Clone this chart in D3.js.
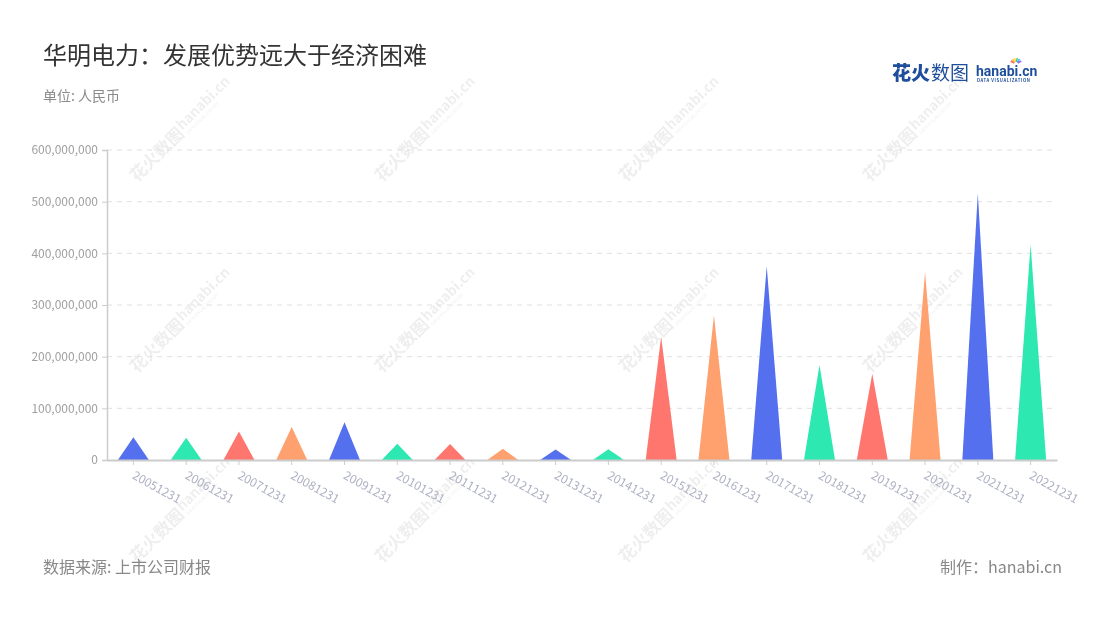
<!DOCTYPE html>
<html><head><meta charset="utf-8">
<script src="https://cdn.jsdelivr.net/npm/d3@7"></script>
<style>
html,body{margin:0;padding:0;background:#fff;}
svg{display:block;font-family:"Noto Sans CJK SC","Noto Sans",sans-serif;}
</style></head>
<body>
<svg id="chart" width="1100" height="620"></svg>
<script>
const categories = ["20051231","20061231","20071231","20081231","20091231","20101231","20111231","20121231","20131231","20141231","20151231","20161231","20171231","20181231","20191231","20201231","20211231","20221231"];
const values = [44000000,43000000,55000000,64000000,73000000,31500000,31000000,22000000,20500000,21000000,238000000,280000000,375000000,184000000,167000000,364000000,516000000,417000000];
const yTicks = [0,100000000,200000000,300000000,400000000,500000000,600000000];
const palette = ["#5470ee","#2de8b0","#ff766f","#ffa06f"];
const title = "华明电力：发展优势远大于经济困难";
const subtitle = "单位: 人民币";
const source = "数据来源: 上市公司财报";
const maker = "制作：hanabi.cn";

const svg = d3.select("#chart");
const m = {left:107, right:1057, top:150, bottom:460};

// watermarks
const wmX = [183, 428, 672, 916], wmY = [127, 318, 508];
const wm = svg.append("g").attr("opacity", 0.07);
wmX.forEach(x => wmY.forEach(y => {
  const g = wm.append("g").attr("transform", `translate(${x},${y}) rotate(-45)`);
  g.append("text").attr("x", -72).attr("y", 7).attr("font-size", 17).attr("font-weight", 700).attr("fill", "#000").text("花火数图");
  g.append("text").attr("x", -3).attr("y", 2).attr("font-size", 14).attr("font-weight", 700).attr("fill", "#000").text("hanabi.cn");
  g.append("text").attr("x", -2).attr("y", 9).attr("font-size", 4.5).attr("fill", "#000").text("DATA VISUALIZATION");
}));

const x = d3.scaleBand().domain(categories).range([m.left, m.right]);
const y = d3.scaleLinear().domain([0, 600000000]).range([m.bottom, m.top]);

// grid
svg.append("g").selectAll("line").data(yTicks.slice(1)).join("line")
  .attr("x1", m.left).attr("x2", m.right)
  .attr("y1", d => y(d)).attr("y2", d => y(d))
  .attr("stroke", "#e0e0e0").attr("stroke-dasharray", "5,5").attr("stroke-width", 1);

// y axis
const yAxis = svg.append("g").attr("transform", `translate(${m.left},0)`)
  .call(d3.axisLeft(y).tickValues(yTicks).tickSize(5).tickPadding(4).tickFormat(d3.format(",")));
yAxis.select(".domain").attr("stroke", "#ccc").attr("stroke-width", 1.5);
yAxis.selectAll(".tick line").attr("stroke", "#ccc");
yAxis.selectAll("text").attr("fill", "#a0a0a0").attr("font-size", 12).attr("font-family", "'Noto Sans CJK SC',sans-serif");

// triangles
const bw = 31;
svg.append("g").selectAll("path").data(categories).join("path")
  .attr("d", (c, i) => {
    const cx = x(c) + x.bandwidth()/2;
    return `M${cx - bw/2},${y(0)} L${cx},${y(values[i])} L${cx + bw/2},${y(0)} Z`;
  })
  .attr("fill", (c, i) => palette[i % 4]);

// x axis
const xAxis = svg.append("g").attr("transform", `translate(0,${m.bottom})`)
  .call(d3.axisBottom(x).tickSize(5).tickSizeOuter(0));
xAxis.select(".domain").attr("stroke", "#ccc").attr("stroke-width", 2);
xAxis.selectAll(".tick line").attr("stroke", "#ccc");
xAxis.selectAll("text")
  .attr("fill", "#adb0c2").attr("font-size", 12).attr("font-family", "'Noto Sans CJK SC',sans-serif")
  .attr("text-anchor", "start").attr("dy", null).attr("y", 0)
  .attr("transform", "translate(-2,18) rotate(29)");

// title etc
svg.append("text").attr("x", 43).attr("y", 64).attr("font-size", 24).attr("fill", "#333").text(title);
svg.append("text").attr("x", 43).attr("y", 101).attr("font-size", 14).attr("fill", "#8a8a8a").text(subtitle);
svg.append("text").attr("x", 43).attr("y", 573).attr("font-size", 16).attr("fill", "#888").text(source);
svg.append("text").attr("x", 1062).attr("y", 573).attr("font-size", 16).attr("fill", "#888").attr("text-anchor", "end").text(maker);

// logo
const logo = svg.append("g");
logo.append("text").attr("x", 892).attr("y", 80).attr("font-size", 19).attr("font-weight", 900).attr("fill", "#1f4e9c").text("花火");
logo.append("text").attr("x", 931).attr("y", 80).attr("font-size", 19).attr("fill", "#1f4e9c").text("数图");
logo.append("text").attr("x", 976).attr("y", 76).attr("font-size", 14).attr("font-weight", 700).attr("fill", "#1f4e9c").attr("font-family", "Roboto,sans-serif").text("hanabi.cn");
logo.append("text").attr("x", 977).attr("y", 82).attr("font-size", 4.2).attr("font-weight", 700).attr("fill", "#1f4e9c").attr("letter-spacing", 0.6).text("DATA VISUALIZATION");
const rays = ["#ff5a5a","#ffb340","#ffe040","#40d080","#40b0ff","#a060ff"];
rays.forEach((c, i) => {
  const a = (-150 + i * 24) * Math.PI / 180;
  logo.append("line").attr("x1", 1016 + Math.cos(a)*2).attr("y1", 64 + Math.sin(a)*2)
    .attr("x2", 1016 + Math.cos(a)*6).attr("y2", 64 + Math.sin(a)*6)
    .attr("stroke", c).attr("stroke-width", 1.6);
});
</script>
</body></html>
